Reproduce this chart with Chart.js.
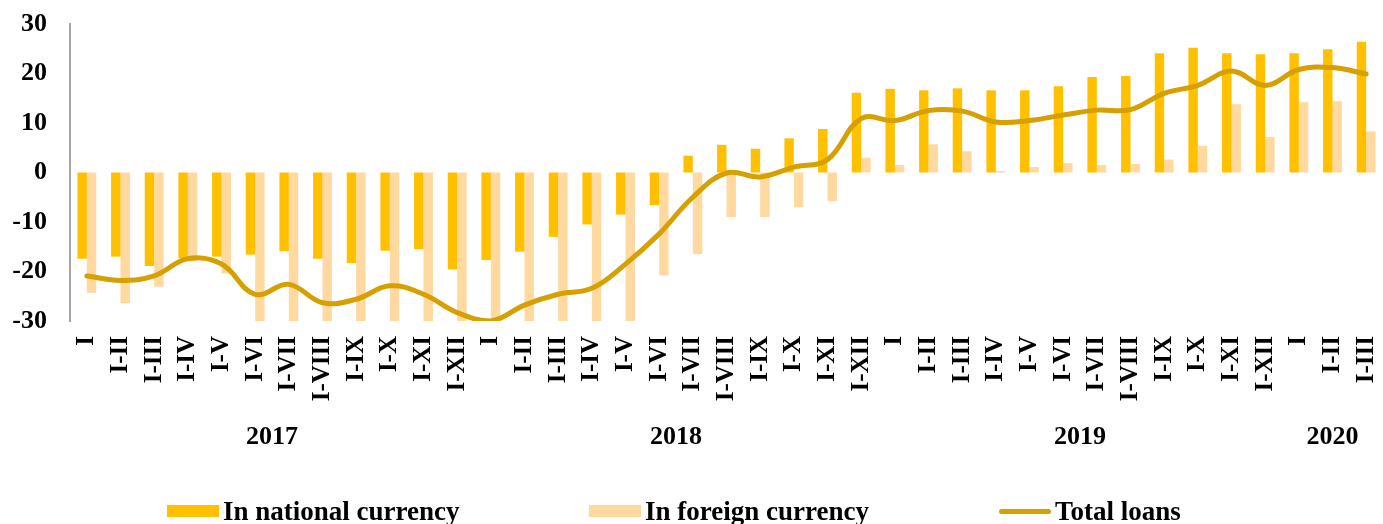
<!DOCTYPE html>
<html>
<head>
<meta charset="utf-8">
<script src="https://cdn.jsdelivr.net/npm/chart.js@4"></script>
<style>
    body { margin: 0; background: #fff; }
    #wrap { position: relative; width: 1383px; height: 524px; }
    #legend { position: absolute; left: 0; top: 0; width: 100%; height: 100%; pointer-events: none;
              font: bold 27px "Liberation Serif", "Times New Roman", serif; color: #000; }
    .item { position: absolute; top: 498px; line-height: 26px; white-space: nowrap; display: flex; align-items: center; }
    .swatch { width: 52px; margin-right: 4px; }
</style>
</head>
<body>
<div id="wrap">
    <canvas id="loansChart"></canvas>
    <div id="legend"></div>
</div>
<script>
(function () {
    "use strict";

    var months = ['I', 'I-II', 'I-III', 'I-IV', 'I-V', 'I-VI', 'I-VII', 'I-VIII', 'I-IX', 'I-X', 'I-XI', 'I-XII',
                  'I', 'I-II', 'I-III', 'I-IV', 'I-V', 'I-VI', 'I-VII', 'I-VIII', 'I-IX', 'I-X', 'I-XI', 'I-XII',
                  'I', 'I-II', 'I-III', 'I-IV', 'I-V', 'I-VI', 'I-VII', 'I-VIII', 'I-IX', 'I-X', 'I-XI', 'I-XII',
                  'I', 'I-II', 'I-III'];
    var years = ['2017', '2018', '2019', '2020'];
    var yearSpans = [12, 12, 12, 3];

    var nationalCurrency = [-17.4, -17.0, -18.9, -17.3, -17.0, -16.6, -15.9, -17.4, -18.3, -15.8, -15.5, -19.6,
                            -17.7, -16.0, -13.0, -10.5, -8.5, -6.6, 3.4, 5.6, 4.8, 6.9, 8.8, 16.1,
                            16.9, 16.6, 17.0, 16.6, 16.6, 17.4, 19.3, 19.5, 24.1, 25.2, 24.1, 23.9,
                            24.1, 24.9, 26.4];
    var foreignCurrency = [-24.3, -26.4, -23.1, -18.0, -20.4, -31, -31, -31, -31, -31, -31, -31,
                           -31, -31, -31, -31, -31, -20.8, -16.5, -9.0, -9.0, -7.0, -5.8, 3.0,
                           1.5, 5.7, 4.3, 0.3, 1.1, 1.9, 1.5, 1.7, 2.6, 5.4, 13.8, 7.2,
                           14.2, 14.4, 8.3];
    var totalLoans = [-20.9, -21.8, -20.9, -17.4, -18.5, -24.6, -22.6, -26.3, -25.6, -22.9, -24.6, -28.3,
                      -30.0, -26.8, -24.6, -23.4, -18.5, -12.4, -5.0, -0.1, -0.9, 1.1, 2.6, 10.9,
                      10.5, 12.5, 12.4, 10.2, 10.5, 11.6, 12.6, 12.7, 16.0, 17.6, 20.5, 17.6,
                      20.8, 21.2, 19.9];

    var FONT = '"Liberation Serif", "Times New Roman", serif';
    Chart.defaults.font.family = FONT;
    Chart.defaults.font.weight = 'bold';
    Chart.defaults.font.size = 26;
    Chart.defaults.color = '#000';

    var datasets = [
        { type: 'line', label: 'Total loans', data: totalLoans, borderColor: '#D5A000', backgroundColor: '#D5A000',
          borderWidth: 5, tension: 0.4, pointRadius: 0, borderCapStyle: 'round', order: 0 },
        { type: 'bar', label: 'In national currency', data: nationalCurrency, backgroundColor: '#FFC000', order: 1, clip: 0 },
        { type: 'bar', label: 'In foreign currency', data: foreignCurrency, backgroundColor: '#FFD9A0', order: 2, clip: 0 }
    ];

    // year names under the month labels, centred on their group of categories
    var yearLabels = {
        id: 'yearLabels',
        afterDraw: function (chart) {
            var x = chart.scales.x, ctx = chart.ctx, start = 0;
            ctx.save();
            ctx.font = 'bold 26px ' + FONT;
            ctx.fillStyle = '#000';
            ctx.textAlign = 'center';
            ctx.textBaseline = 'middle';
            years.forEach(function (y, i) {
                var mid = start + (yearSpans[i] - 1) / 2;
                ctx.fillText(y, x.getPixelForValue(mid), x.top + 116);
                start += yearSpans[i];
            });
            ctx.restore();
        }
    };

    new Chart(document.getElementById('loansChart'), {
        type: 'bar',
        data: { labels: months, datasets: datasets },
        plugins: [yearLabels],
        options: {
            responsive: true,
            maintainAspectRatio: false,
            animation: false,
            layout: { padding: { top: 24, right: 0, bottom: 0, left: 0 } },
            datasets: { bar: { categoryPercentage: 0.56, barPercentage: 1.0 } },
            scales: {
                x: {
                    grid: { display: false, drawTicks: false },
                    border: { display: false },
                    ticks: { autoSkip: false, minRotation: 90, maxRotation: 90, padding: 15, font: { size: 25 } },
                    afterFit: function (scale) {
                        scale.height = 203;
                        scale.paddingLeft = 0;
                        scale.paddingRight = 0;
                    }
                },
                y: {
                    min: -30, max: 30,
                    grid: { display: false, drawTicks: false },
                    border: { color: '#A6A6A6', width: 2 },
                    ticks: { stepSize: 10, padding: 23 },
                    afterFit: function (scale) {
                        scale.width = 70;
                        scale.paddingTop = 0;
                        scale.paddingBottom = 0;
                    }
                }
            },
            plugins: {
                legend: { display: false },
                tooltip: { enabled: false }
            }
        }
    });

    // legend, in the order of the reference
    var legendOrder = [1, 2, 0];
    var legendLeft = [167, 589, 999];
    var legend = document.getElementById('legend');
    legendOrder.forEach(function (di, i) {
        var ds = datasets[di];
        var item = document.createElement('div');
        item.className = 'item';
        item.style.left = legendLeft[i] + 'px';
        var sw = document.createElement('span');
        sw.className = 'swatch';
        if (ds.type === 'line') {
            sw.style.height = '5px';
            sw.style.borderRadius = '3px';
            sw.style.background = ds.borderColor;
        } else {
            sw.style.height = '12px';
            sw.style.background = ds.backgroundColor;
        }
        var txt = document.createElement('span');
        txt.textContent = ds.label;
        item.appendChild(sw);
        item.appendChild(txt);
        legend.appendChild(item);
    });
})();
</script>
</body>
</html>
